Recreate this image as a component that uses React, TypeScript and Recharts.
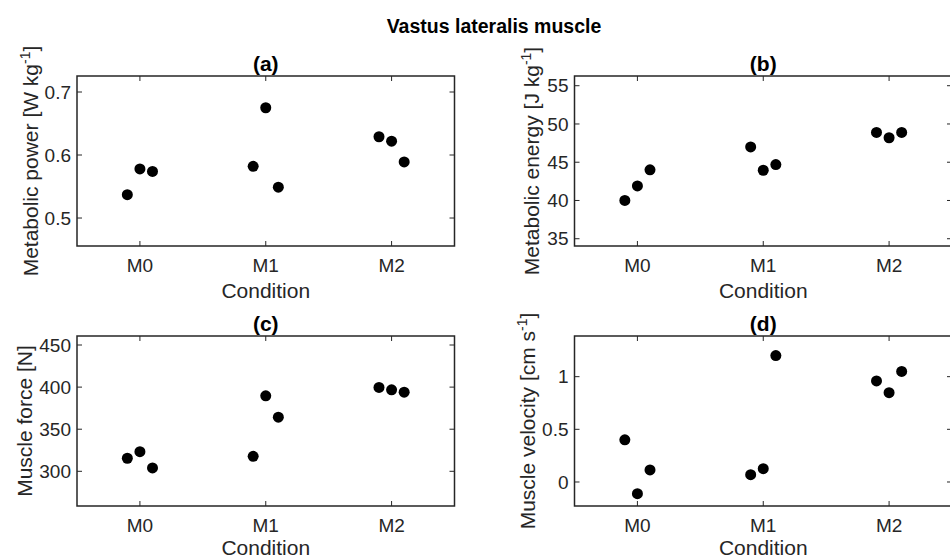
import React from 'react'
import { ScatterChart, Scatter, XAxis, YAxis, ReferenceArea } from 'recharts'

// conditions on the x axis, each one has three points spread around it
const conditions = ['M0', 'M1', 'M2']
const conditionTicks = [1, 2, 3]
const xPositions = [0.9, 1.0, 1.1, 1.9, 2.0, 2.1, 2.9, 3.0, 3.1]

const powerValues = [0.537, 0.578, 0.574, 0.582, 0.675, 0.549, 0.629, 0.622, 0.589]
const energyValues = [40.0, 41.9, 44.0, 47.0, 43.95, 44.7, 48.9, 48.2, 48.9]
const forceValues = [315.5, 323.3, 304, 317.8, 389.6, 364.3, 399.6, 396.8, 394]
const velocityValues = [0.4, -0.111, 0.114, 0.069, 0.126, 1.2, 0.959, 0.848, 1.05]

const powerTicks = [0.5, 0.6, 0.7]
const energyTicks = [35, 40, 45, 50, 55]
const forceTicks = [300, 350, 400, 450]
const velocityTicks = [0, 0.5, 1]

const powerDomain = [0.4556, 0.7254]
const energyDomain = [34.05, 56.27]
const forceDomain = [258.8, 460.7]
const velocityDomain = [-0.228, 1.386]

const PW = 377.5
const PH = 170
const X_AXIS_H = 54
const RIGHT = 20
const TICK_LEN = 5
const INK = '#262626'
const FONT = '"Liberation Sans", Arial, Helvetica, sans-serif'

interface PanelProps {
  left: number
  top: number
  yAxisWidth: number
  marginTop: number
  values: number[]
  domain: number[]
  ticks: number[]
  title: string
  yLabel: string
  yUnit: string
  yExp?: string
  yLabelGap: number
  xLabelDrop: number
}

function Panel({
  left, top, yAxisWidth, marginTop, values, domain, ticks, title, yLabel, yUnit, yExp, yLabelGap, xLabelDrop,
}: PanelProps) {
  const data = xPositions.map((x, i) => ({ x, y: values[i] }))
  const width = yAxisWidth + PW + RIGHT
  const height = marginTop + PH + X_AXIS_H
  const cx = yAxisWidth + PW / 2
  const cy = marginTop + PH / 2

  const xTick = ({ x, y, payload }: any) => (
    <g>
      <line x1={x} y1={y} x2={x} y2={y - TICK_LEN} stroke={INK} strokeWidth={1} />
      <line x1={x} y1={y - PH} x2={x} y2={y - PH + TICK_LEN} stroke={INK} strokeWidth={1} />
      <text x={x} y={y + 26} textAnchor="middle" fill={INK} fontSize={19} fontFamily={FONT}>
        {conditions[payload.value - 1]}
      </text>
    </g>
  )

  const yTick = ({ x, y, payload }: any) => (
    <g>
      <line x1={x} y1={y} x2={x + TICK_LEN} y2={y} stroke={INK} strokeWidth={1} />
      <line x1={x + PW - TICK_LEN} y1={y} x2={x + PW} y2={y} stroke={INK} strokeWidth={1} />
      <text x={x - 6} y={y} dy="0.35em" textAnchor="end" fill={INK} fontSize={19} fontFamily={FONT}>
        {String(payload.value)}
      </text>
    </g>
  )

  return (
    <div style={{ position: 'absolute', left, top, width, height }}>
      <ScatterChart width={width} height={height} margin={{ top: marginTop, right: RIGHT, bottom: 0, left: 0 }}>
        <XAxis
          type="number" dataKey="x" domain={[0.5, 3.5]} ticks={conditionTicks} interval={0}
          height={X_AXIS_H} tickLine={false} axisLine={false} tickSize={0} tickMargin={0}
          allowDataOverflow tick={xTick}
        />
        <YAxis
          type="number" dataKey="y" domain={domain} ticks={ticks} interval={0}
          width={yAxisWidth} tickLine={false} axisLine={false} tickSize={0} tickMargin={0}
          allowDataOverflow tick={yTick}
        />
        <ReferenceArea
          x1={0.5} x2={3.5} y1={domain[0]} y2={domain[1]}
          fill="none" fillOpacity={0} stroke={INK} strokeWidth={1.5} ifOverflow="visible"
        />
        <Scatter
          data={data} fill="#000" isAnimationActive={false}
          shape={(p: any) => <circle cx={p.cx} cy={p.cy} r={5.5} fill="#000" />}
        />
      </ScatterChart>
      <svg
        width={width} height={height}
        style={{ position: 'absolute', left: 0, top: 0, pointerEvents: 'none', overflow: 'visible' }}
      >
        <text x={cx} y={marginTop - 5} textAnchor="middle" fontWeight="bold" fontSize={21} fill="#000" fontFamily={FONT}>
          {title}
        </text>
        <text x={cx} y={marginTop + PH + xLabelDrop} textAnchor="middle" fontSize={21} fill={INK} fontFamily={FONT}>
          Condition
        </text>
        <text
          transform={`translate(${yAxisWidth - yLabelGap},${cy}) rotate(-90)`}
          textAnchor="middle" fontSize={21} fill={INK} fontFamily={FONT}
        >
          <tspan>{`${yLabel} [${yUnit}`}</tspan>
          {yExp ? <tspan dy={-8} fontSize={14}>{yExp}</tspan> : null}
          <tspan dy={yExp ? 8 : 0}>]</tspan>
        </text>
      </svg>
    </div>
  )
}

export default function App() {
  return (
    <div style={{ position: 'absolute', left: 0, top: 0, width: 950, height: 560, overflow: 'hidden', background: '#fff' }}>
      <svg width={950} height={40} style={{ position: 'absolute', left: 0, top: 0 }}>
        <text x={494} y={32.5} textAnchor="middle" fontWeight="bold" fontSize={19.5} fill="#000" fontFamily={FONT}>
          Vastus lateralis muscle
        </text>
      </svg>
      <Panel left={0} top={0} yAxisWidth={77} marginTop={76} values={powerValues} domain={powerDomain}
        ticks={powerTicks} title="(a)" yLabel="Metabolic power" yUnit="W kg" yExp="-1"
        yLabelGap={39.5} xLabelDrop={52} />
      <Panel left={476} top={0} yAxisWidth={98.5} marginTop={76} values={energyValues} domain={energyDomain}
        ticks={energyTicks} title="(b)" yLabel="Metabolic energy" yUnit="J kg" yExp="-1"
        yLabelGap={35.5} xLabelDrop={52} />
      <Panel left={0} top={300} yAxisWidth={77} marginTop={36} values={forceValues} domain={forceDomain}
        ticks={forceTicks} title="(c)" yLabel="Muscle force" yUnit="N"
        yLabelGap={45.5} xLabelDrop={49} />
      <Panel left={476} top={300} yAxisWidth={98.5} marginTop={36} values={velocityValues} domain={velocityDomain}
        ticks={velocityTicks} title="(d)" yLabel="Muscle velocity" yUnit="cm s" yExp="-1"
        yLabelGap={40} xLabelDrop={49} />
    </div>
  )
}
